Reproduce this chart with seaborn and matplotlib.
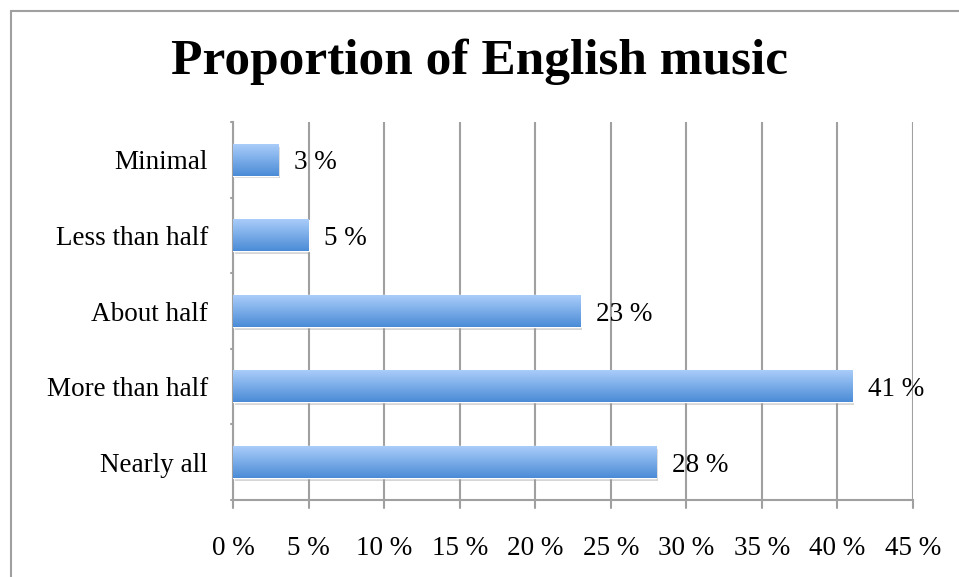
import matplotlib
matplotlib.use("Agg")
import matplotlib.pyplot as plt
import seaborn as sns
import numpy as np
import pandas as pd
from matplotlib.patches import Rectangle
from matplotlib.colors import LinearSegmentedColormap

categories = ["Minimal", "Less than half", "About half", "More than half", "Nearly all"]
values = [3, 5, 23, 41, 28]
x_ticks = [0, 5, 10, 15, 20, 25, 30, 35, 40, 45]
title = "Proportion of English music"

df = pd.DataFrame({"category": categories, "value": values})

sns.set_style("white")
plt.rcParams['font.family'] = ['Liberation Serif', 'DejaVu Serif']
plt.rcParams['text.color'] = 'black'
plt.rcParams['xtick.color'] = 'black'
plt.rcParams['ytick.color'] = 'black'

FS = 19.5

fig = plt.figure(figsize=(9.59, 5.77), dpi=100)
ax = fig.add_axes([0.243, 0.1334, 0.709, 0.6552])

sns.barplot(data=df, x="value", y="category", order=categories, orient="h",
            color="#6fa6e6", width=0.42, ax=ax, zorder=3)

ax.set_xlim(0, 45)
ax.set_ylim(len(categories) - 0.5, -0.5)

grad = np.linspace(0, 1, 256).reshape(-1, 1)
cmap = LinearSegmentedColormap.from_list("g", ["#aacdfa", "#4a8bd6"])
bars = list(ax.patches[:len(values)])
for p in bars:
    x0, y0 = p.get_x(), p.get_y()
    w, h = p.get_width(), p.get_height()
    sh = Rectangle((x0 + 0.12, y0 + 0.035), w, h, facecolor="#9a9a9a", alpha=0.4,
                   edgecolor="none", zorder=2)
    ax.add_patch(sh)
    ax.imshow(grad, cmap=cmap, aspect="auto",
              extent=(x0, x0 + w, y0 + h, y0), zorder=4)
for p, v in zip(bars, values):
    ax.text(p.get_x() + p.get_width() + 1.05, p.get_y() + p.get_height() / 2,
            f"{v} %", va="center_baseline", ha="left", fontsize=FS, color="black", zorder=5)

ax.set_xlim(0, 45)
ax.set_ylim(len(categories) - 0.5, -0.5)

ax.set_xticks(x_ticks)
ax.set_xticklabels([f"{t} %" for t in x_ticks], fontsize=FS)
ax.set_yticks(range(len(categories)))
ax.set_yticklabels(categories, fontsize=FS)
ax.set_xlabel("")
ax.set_ylabel("")

for t in x_ticks:
    ax.axvline(t, color="#a0a0a0", lw=1.5, zorder=1)

for s in ["top", "right"]:
    ax.spines[s].set_visible(False)
for s in ["left", "bottom"]:
    ax.spines[s].set_color("#a0a0a0")
    ax.spines[s].set_linewidth(1.5)

ax.tick_params(axis="y", length=0, pad=18)
ax.tick_params(axis="x", length=0, pad=26)
for yb in np.arange(-0.5, len(categories), 1.0):
    ax.plot([-0.11, 0], [yb, yb], color="#a0a0a0", lw=1.5, clip_on=False, zorder=1)
for t in x_ticks:
    ax.plot([t, t], [len(categories) - 0.5, len(categories) - 0.5 + 0.105],
            color="#a0a0a0", lw=1.5, clip_on=False, zorder=1)

fig.text(0.5, 0.8925, title, ha="center", va="center", fontsize=37, fontweight="bold",
         color="black")

border = Rectangle((11 / 959, -0.05), 2.0, (577 - 11) / 577 + 0.05, transform=fig.transFigure,
                   facecolor="none", edgecolor="#a0a0a0", lw=1.5)
fig.patches.append(border)

fig.savefig("out.png", dpi=100)
